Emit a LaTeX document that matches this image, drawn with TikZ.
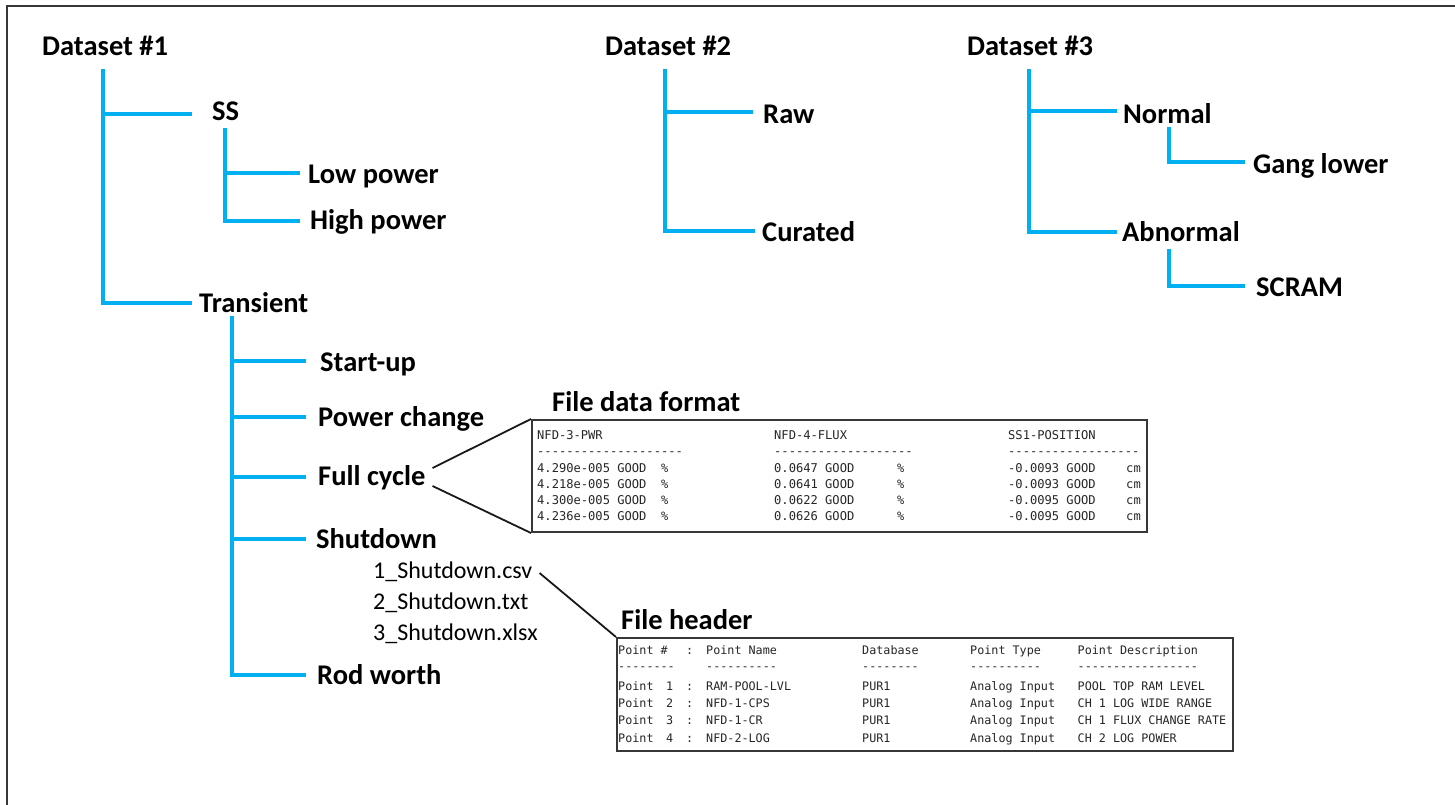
\documentclass[tikz,border=0pt]{standalone}
\usepackage{fontspec}
\setmainfont{Carlito}
\setmonofont{DejaVu Sans Mono}
\usetikzlibrary{calc}
\definecolor{treeblue}{RGB}{0,176,240}
\definecolor{framegray}{RGB}{55,55,55}
\begin{document}
\begin{tikzpicture}[x=1pt,y=-1pt,
  lbl/.style={font=\fontsize{28.5}{34}\selectfont\bfseries, inner sep=0pt, anchor=base west},
  fname/.style={font=\fontsize{24}{29}\selectfont, inner sep=0pt, anchor=base west},
  tabA/.style={font=\ttfamily\fontsize{12.1}{14}\selectfont, text=black!85, inner sep=0pt, anchor=base west},
  tabB/.style={font=\ttfamily\fontsize{11.75}{14}\selectfont, text=black!85, inner sep=0pt, anchor=base west},
  tree/.style={draw=treeblue, line width=4.5pt},
  link/.style={draw=black!90, line width=1.8pt},
  tbox/.style={draw=framegray, line width=2pt, inner sep=0pt, anchor=north west, fill=white},
  frame/.style={draw=framegray, line width=2.5pt}]

\useasboundingbox (0,0) rectangle (1455,804);
\fill[white] (0,0) rectangle (1455,804);
\draw[frame] (1470,6) -- (7,6) -- (7,820);

% ---------------- Dataset 1
\node[lbl] (d1) at (42,55) {Dataset \#1};
\node[lbl] (ss) at (212,120) {SS};
\node[lbl] (lp) at (308,183) {Low power};
\node[lbl] (hp) at (310,229) {High power};
\node[lbl] (tr) at (199,312) {Transient};
\node[lbl] (su) at (320,371) {Start-up};
\node[lbl] (pc) at (318,426) {Power change};
\node[lbl] (fc) at (318,485) {Full cycle};
\node[lbl] (sd) at (316,548) {Shutdown};
\node[lbl] (rw) at (317,684) {Rod worth};
\node[fname] (f1) at (373,578) {1\_Shutdown.csv};
\node[fname] (f2) at (373,609) {2\_Shutdown.txt};
\node[fname] (f3) at (373,640) {3\_Shutdown.xlsx};

\coordinate (k1) at (103,69);
\draw[tree] (k1) |- ($(ss.base west)+(-20,-6)$);
\draw[tree] (k1) |- ($(tr.base west)+(-7,-9)$);
\coordinate (k2) at (225,128);
\draw[tree] (k2) |- ($(lp.base west)+(-8,-10)$);
\draw[tree] (k2) |- ($(hp.base west)+(-10,-8)$);
\coordinate (k3) at (232,316);
\foreach \n/\dx/\dy in {su/14/10, pc/12/9, fc/12/8, sd/10/9, rw/11/9}
  \draw[tree] (k3) |- ($(\n.base west)+(-\dx,-\dy)$);

% ---------------- Dataset 2
\node[lbl] (d2) at (605,55) {Dataset \#2};
\node[lbl] (raw) at (763,123) {Raw};
\node[lbl] (cur) at (762,241) {Curated};
\coordinate (k4) at (665,69);
\draw[tree] (k4) |- ($(raw.base west)+(-10,-11)$);
\draw[tree] (k4) |- ($(cur.base west)+(-7,-10)$);

% ---------------- Dataset 3
\node[lbl] (d3) at (967,55) {Dataset \#3};
\node[lbl] (nor) at (1123,123) {Normal};
\node[lbl] (gl) at (1253,173) {Gang lower};
\node[lbl] (abn) at (1122,241) {Abnormal};
\node[lbl] (scr) at (1256,296) {SCRAM};
\coordinate (k5) at (1029,69);
\draw[tree] (k5) |- ($(nor.base west)+(-6,-12)$);
\draw[tree] (k5) |- ($(abn.base west)+(-5,-9)$);
\coordinate (k6) at (1169,127);
\draw[tree] (k6) |- ($(gl.base west)+(-8,-11)$);
\coordinate (k7) at (1169,249);
\draw[tree] (k7) |- ($(scr.base west)+(-11,-10)$);

% ---------------- File data format table
\node[lbl] (tAt) at (552,411) {File data format};
\node[tbox, minimum width=615pt, minimum height=112pt] (tA) at (531,419) {};
\draw[link] ($(fc.base east)+(7,-17)$) -- (tA.north west);
\draw[link] ($(fc.base east)+(7,1)$) -- (tA.south west);

\node[tabA] (a0) at (537,439.5) {NFD-3-PWR};
\node[tabA] (b0) at (774,439.5) {NFD-4-FLUX};
\node[tabA] (c0) at (1008,439.5) {SS1-POSITION};
\node[tabA] (ad) at (537,455.6) {--------------------};
\node[tabA] (bd) at (774,455.6) {-------------------};
\node[tabA] (cd) at (1008,455.6) {------------------};
\foreach \yy/\a/\b/\c [count=\i] in {472.4/4.290e-005/0.0647/-0.0093,
    488.4/4.218e-005/0.0641/-0.0093, 504.4/4.300e-005/0.0622/-0.0095,
    520.4/4.236e-005/0.0626/-0.0095} {
  \node[tabA] (a\i) at (537,\yy) {\a\ GOOD};
  \node[tabA] (ap\i) at (661,\yy) {\%};
  \node[tabA] (b\i) at (774,\yy) {\b\ GOOD};
  \node[tabA] (bp\i) at (897,\yy) {\%};
  \node[tabA] (c\i) at (1008,\yy) {\c\ GOOD};
  \node[tabA] (cu\i) at (1126,\yy) {cm};
}

% ---------------- File header table
\node[lbl] (tBt) at (621,629) {File header};
\draw[link] ($(f1.base east)+(7,-5)$) -- (616,637) coordinate (tBc);
\node[tbox, minimum width=616pt, minimum height=113pt] (tB) at (tBc) {};

\node[tabB] (p0) at (618,654.4) {Point \#};
\node[tabB] (q0) at (686,654.4) {:};
\node[tabB] (n0) at (706,654.4) {Point Name};
\node[tabB] (db0) at (862,654.4) {Database};
\node[tabB] (pt0) at (970,654.4) {Point Type};
\node[tabB] (pd0) at (1077.5,654.4) {Point Description};
\node[tabB] (pdash) at (618,670.6) {--------};
\node[tabB] (ndash) at (706,670.6) {----------};
\node[tabB] (dbdash) at (862,670.6) {--------};
\node[tabB] (ptdash) at (970,670.6) {----------};
\node[tabB] (pddash) at (1077.5,670.6) {-----------------};
\foreach \yy/\nm/\ds [count=\i] in {690.4/RAM-POOL-LVL/POOL TOP RAM LEVEL,
    707.4/NFD-1-CPS/CH 1 LOG WIDE RANGE, 724.4/NFD-1-CR/CH 1 FLUX CHANGE RATE,
    742.4/NFD-2-LOG/CH 2 LOG POWER} {
  \node[tabB] (p\i) at (618,\yy) {Point};
  \node[tabB] (pn\i) at (666,\yy) {\i};
  \node[tabB] (q\i) at (686,\yy) {:};
  \node[tabB] (n\i) at (706,\yy) {\nm};
  \node[tabB] (db\i) at (862,\yy) {PUR1};
  \node[tabB] (pt\i) at (970,\yy) {Analog Input};
  \node[tabB] (pd\i) at (1077.5,\yy) {\ds};
}
\end{tikzpicture}
\end{document}
